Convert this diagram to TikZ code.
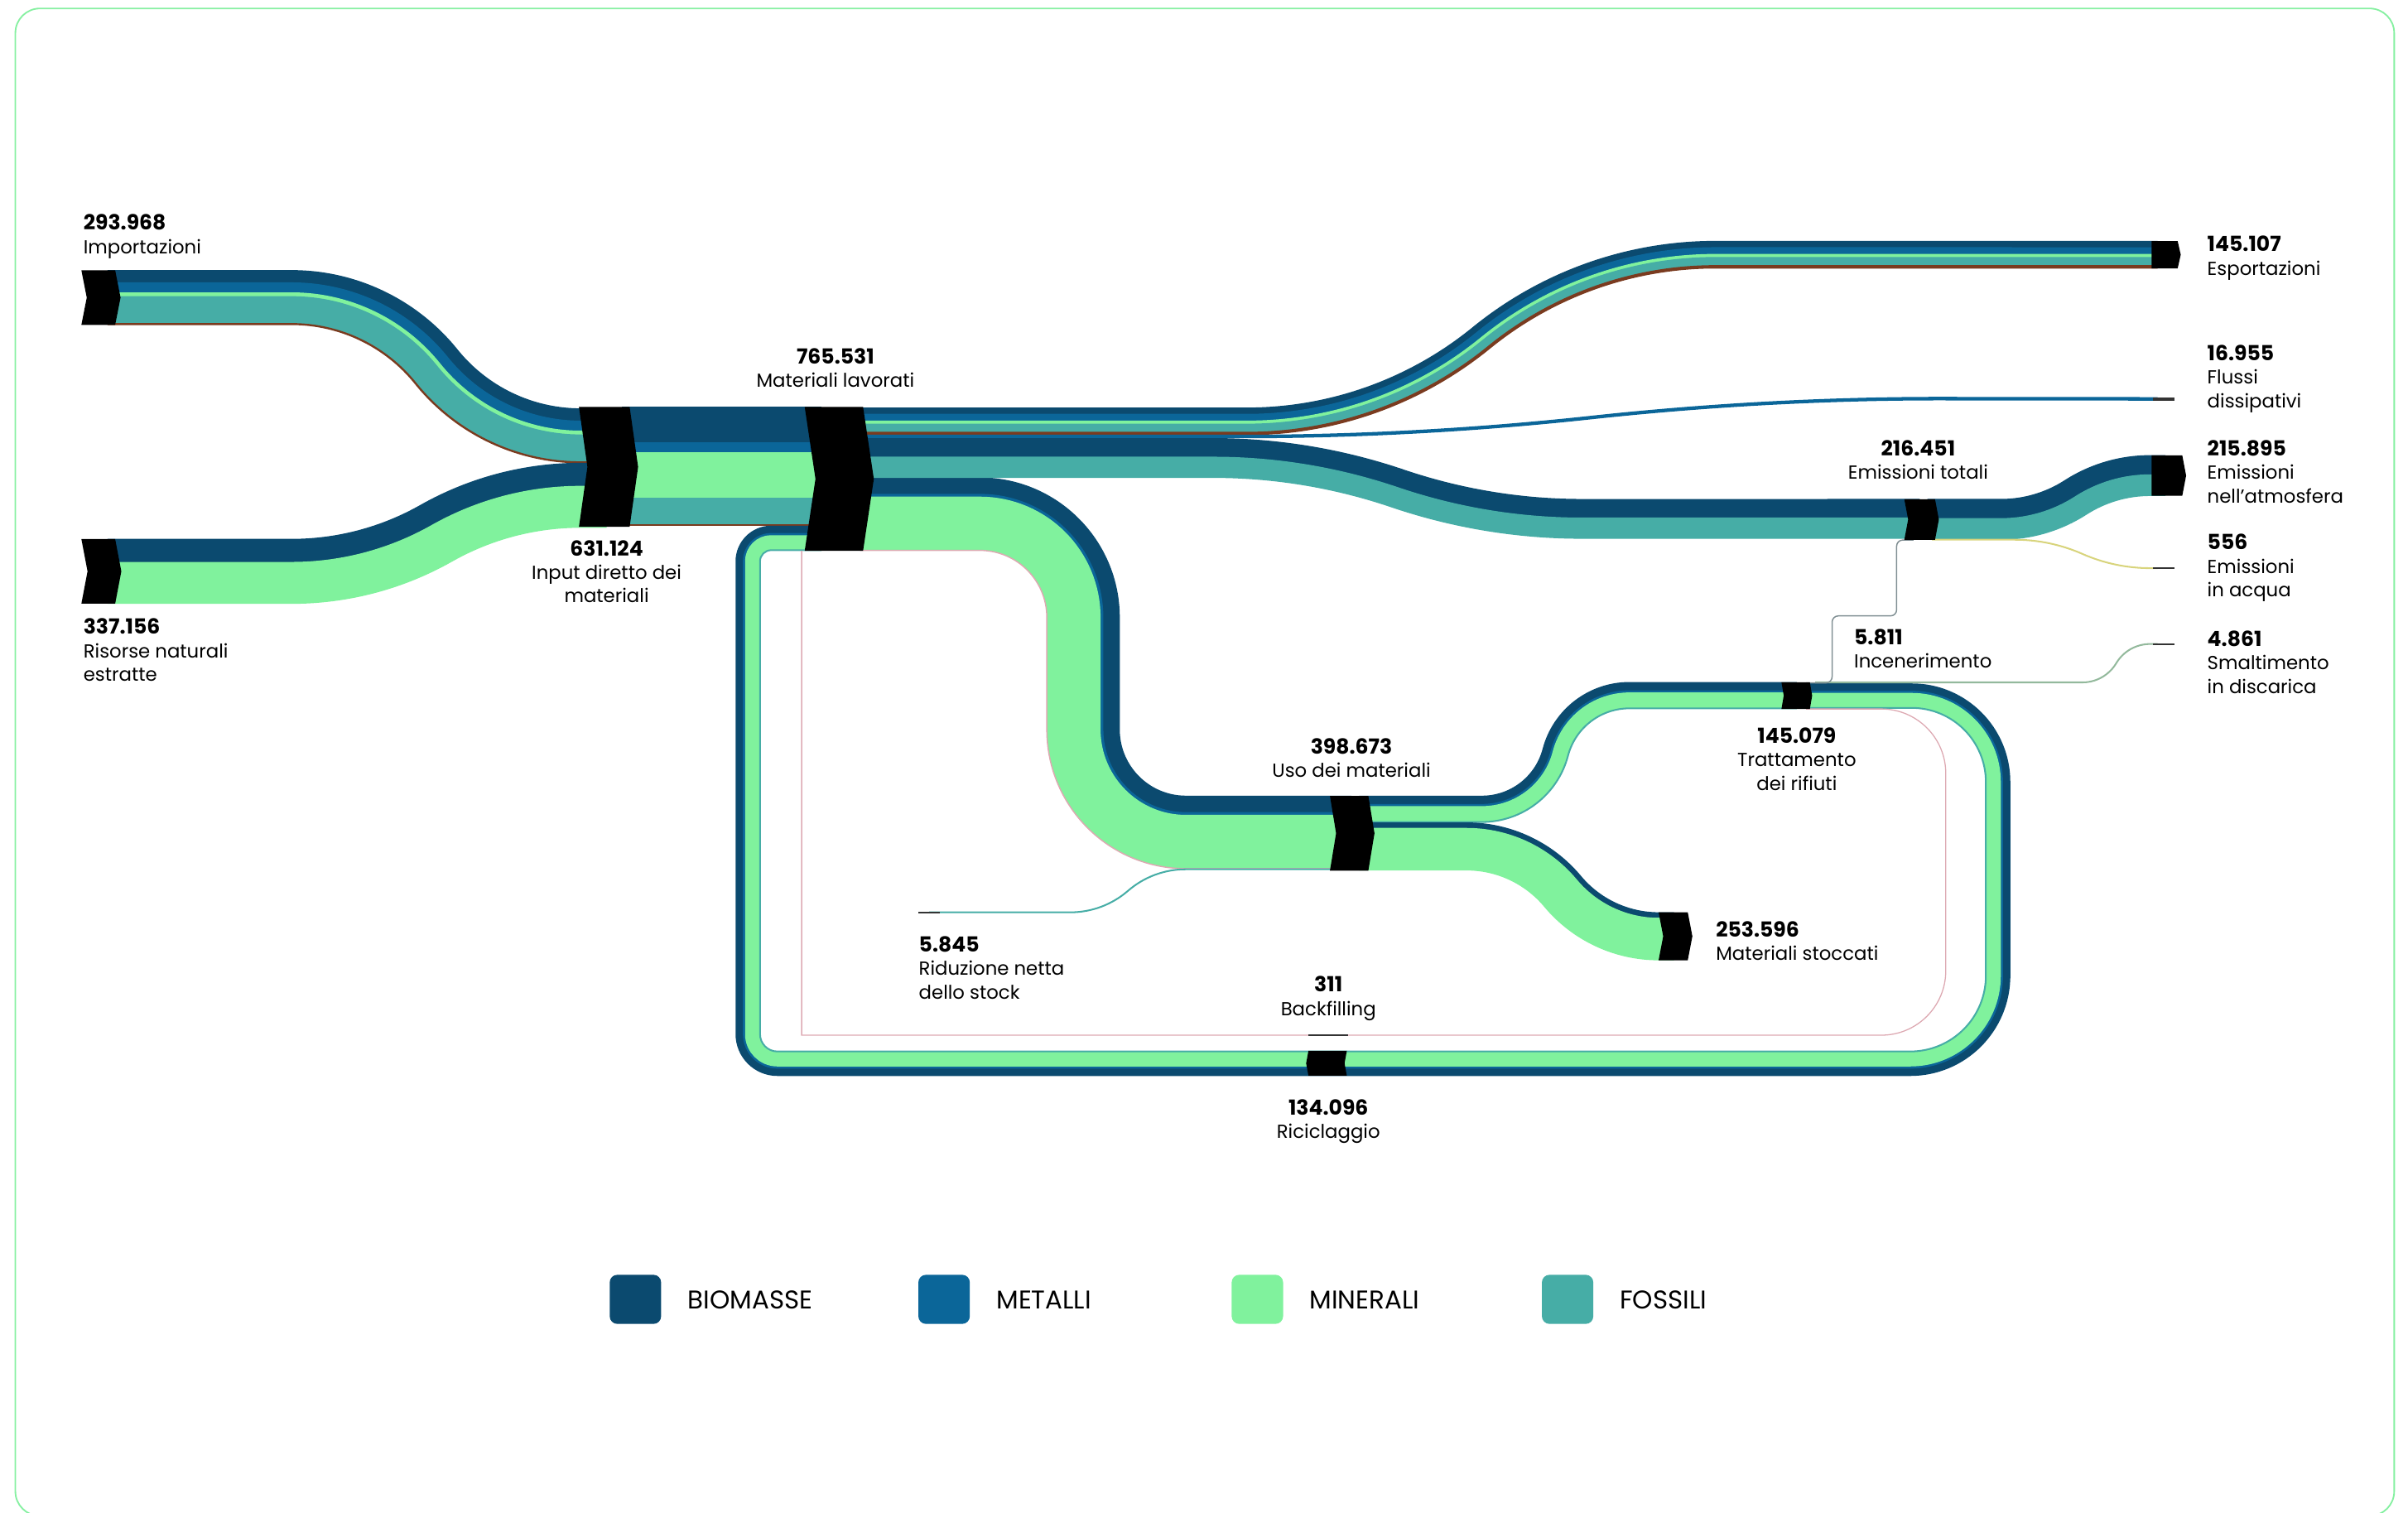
\documentclass[tikz,border=0pt]{standalone}
\usepackage{fontspec}
\setmainfont{Poppins}

\definecolor{cbio}{HTML}{0B4A6F}
\definecolor{cmet}{HTML}{0B6699}
\definecolor{cmin}{HTML}{80F29D}
\definecolor{cfos}{HTML}{46ADA6}
\definecolor{coth}{HTML}{7A3B1F}
\definecolor{cpink}{HTML}{DDA9B2}
\definecolor{cgrey}{HTML}{7F8E92}
\definecolor{cland}{HTML}{93B99C}
\definecolor{cwater}{HTML}{D8D47C}
\definecolor{cframe}{HTML}{86F0A1}

\tikzset{
  lbl/.style={font=\fontsize{7}{8.7}\selectfont, inner sep=0pt, align=left, anchor=north west},
  clbl/.style={lbl, align=center, anchor=north},
  legendtext/.style={font=\fontsize{9.5}{11}\selectfont, inner sep=0pt, anchor=west},
  endmark/.style={draw=black!80, line width=#1*0.02cm},
  thinflow/.style={line width=#1*0.02cm},
}

% bold flow value in a label
\newcommand\val[1]{{\fontsize{7.7}{8.7}\selectfont\bfseries #1}}

% flow with an s-bend: x start, x bend, bend length, drop, x end, y centre, colour/top/bottom
\newcommand\sflow[7]{%
  \pgfmathsetmacro\fs{ifthenelse(#4<0,-1,1)}%
  \pgfmathsetmacro\ft{2*atan(abs(#4)/#3)}%
  \pgfmathsetmacro\fr{#3/(2*sin(\ft))}%
  \foreach \fc/\ya/\yb in {#7} {%
    \pgfmathsetmacro\fu{#6-(\ya+\yb)/2}%
    \draw[\fc, line width={(\yb-\ya+0.3)*0.02cm}] (#1,{#6-(\fu)}) -- (#2,{#6-(\fu)})
      arc[start angle={-90*(\fs)}, delta angle={(\fs)*\ft}, radius={\fr+(\fs)*(\fu)}]
      arc[start angle={90*(\fs)+(\fs)*\ft}, delta angle={-(\fs)*\ft}, radius={\fr-(\fs)*(\fu)}]
      -- (#5,{#6+(#4)-(\fu)});
  }}

% black node bar: x1, x2, y1, y2, left notch, right tip
\newcommand\nodebar[6]{%
  \fill (#1,#3) -- (#2,#3) -- ({#2+#6},{(#3+#4)/2}) -- (#2,#4) -- (#1,#4)
    -- ({#1+#5},{(#3+#4)/2}) -- cycle;}

\begin{document}
\begin{tikzpicture}[x=0.02cm, y=-0.02cm]
  \useasboundingbox (0,0) rectangle (1568,985);
  \draw[cframe, line width=0.02cm, rounded corners=0.32cm] (10,5.5) rectangle (1559,987);

  % into input diretto
  \sflow{70}{190}{188}{90}{395}{193.75}{cbio/176/184, cmet/184/190.5, cmin/190.5/193, cfos/193/210.5, coth/210.5/211.5}
  \sflow{70}{190}{188}{-49.5}{395}{372}{cbio/351/366, cmin/366/393}

  \foreach \fc/\ya/\yb in {cbio/265/288, cmet/288/294.5, cmin/294.5/324, cfos/324/341.5, coth/341.5/342.5}
    \fill[\fc] (405,\ya) rectangle (535,\yb);

  % riciclaggio loop
  \foreach \fc/\w/\fu in {cbio/4.8/5.7, cmet/1.4/2.6, cmin/9.2/-2.7, cfos/0.8/-7.7}
    \draw[\fc, line width={(\w+0.3)*0.02cm}] (1175,{453.2-(\fu)}) -- (1244.8,{453.2-(\fu)})
      arc[start angle=-90, end angle=0, radius={56+(\fu)}]
      -- ({1300.8+(\fu)},635.3)
      arc[start angle=0, end angle=90, radius={57+(\fu)}]
      -- (506.2,{692.3+(\fu)})
      arc[start angle=90, end angle=180, radius={19+(\fu)}]
      -- ({487.2-(\fu)},365.5)
      arc[start angle=180, end angle=270, radius={15+(\fu)}]
      -- (535,{350.5-(\fu)});

  % materiali lavorati -> uso dei materiali
  \foreach \fc/\w/\fu in {cbio/10.7/18.45, cmet/1.8/12.2, cmin/34.6/-6, cpink/0.5/-23.55}
    \draw[\fc, line width={(\w+0.3)*0.02cm}] (560,{334.8-(\fu)}) -- (638,{334.8-(\fu)})
      arc[start angle=-90, end angle=0, radius={67.2+(\fu)}]
      -- ({705.2+(\fu)},475)
      arc[start angle=180, end angle=90, radius={67-(\fu)}]
      -- (880,{542-(\fu)});

  \sflow{560}{812}{305}{-108.5}{1405}{274.35}{cbio/265.5/269.6, cmet/269.6/274, cmin/274/276, cfos/276/281.3, coth/281.3/283.2}
  \sflow{560}{809}{454}{-24.5}{1405}{284.2}{cmet/283.2/285.2}
  \sflow{560}{790}{240}{39.6}{1250}{298.2}{cbio/285.4/297.5, cfos/297.5/311}
  \sflow{1255}{1303}{97}{-28.5}{1410}{338.15}{cbio/325/337.5, cfos/337.5/351.3}
  \sflow{1258}{1312}{88}{18.5}{1405}{351.4}{cwater/351/351.8}

  \sflow{885}{965}{96}{-74}{1170}{526.9}{cbio/518.2/523.6, cmet/523.6/525, cmin/525/534.8, cfos/534.8/535.6}
  \sflow{885}{955}{125}{58.5}{1090}{551.1}{cbio/535.6/539.2, cmin/539.2/566.6}
  \sflow{605}{697}{75}{-28}{880}{594}{cfos/593.6/594.4}

  \sflow{1182}{1356}{44}{-25}{1405}{444.3}{cland/443.9/444.7}
  \draw[cgrey, thinflow=0.8, rounded corners=0.08cm] (1176,444.6) -- (1193,444.6) -- (1193,401)
    -- (1235,401) -- (1235,351.6) -- (1246,351.6);
  \draw[cpink, thinflow=0.7] (1176,461.6) -- (1225,461.6) arc[start angle=-90, end angle=0, radius=42]
    -- (1267,632) arc[start angle=0, end angle=90, radius=42] -- (522,674) -- (522,358.6);

  % node bars
  \nodebar{53}{75}{176}{211.5}{3.5}{3.5}
  \nodebar{53}{75}{351}{393}{4}{4}
  \nodebar{377}{410}{265}{343}{5.5}{5.5}
  \nodebar{524}{562}{265}{358.6}{7}{7}
  \nodebar{866}{891}{518.2}{566.9}{4}{4}
  \nodebar{1160}{1178.5}{444.2}{461.6}{1.5}{1.5}
  \nodebar{1240}{1260}{325}{351.5}{2.5}{2.5}
  \nodebar{1080}{1099}{594}{625.2}{3}{3}
  \nodebar{852}{877}{684.2}{700.4}{-1.5}{-1.5}
  \nodebar{1401}{1418}{157}{174.7}{0}{2}
  \nodebar{1401}{1421}{296.5}{322.8}{0}{2.5}

  \draw[endmark=2] (1402,259.7) -- (1416,259.7);
  \draw[endmark=1] (1402,369.9) -- (1416,369.9);
  \draw[endmark=1] (1402,419.3) -- (1416,419.3);
  \draw[endmark=1.2] (598,594) -- (612,594);
  \draw[endmark=1.2] (852,674) -- (878,674);

  % labels
  \node[lbl] (imp) at (54,139.4) {\val{293.968}\\Importazioni};
  \node[lbl] (ris) at (54,402.4) {\val{337.156}\\Risorse naturali\\estratte};
  \node[clbl] (idm) at (395,351.4) {\val{631.124}\\Input diretto dei\\materiali};
  \node[clbl] (lav) at (544,226.4) {\val{765.531}\\Materiali lavorati};
  \node[clbl] (uso) at (880,480.4) {\val{398.673}\\Uso dei materiali};
  \node[clbl] (tra) at (1170,473.4) {\val{145.079}\\Trattamento\\dei rifiuti};
  \node[lbl] (sto) at (1117,599.4) {\val{253.596}\\Materiali stoccati};
  \node[lbl] (rid) at (598,609.4) {\val{5.845}\\Riduzione netta\\dello stock};
  \node[clbl] (bkf) at (865,635.4) {\val{311}\\Backfilling};
  \node[clbl] (ric) at (865,715.4) {\val{134.096}\\Riciclaggio};
  \node[clbl] (emt) at (1249,286.4) {\val{216.451}\\Emissioni totali};
  \node[lbl] (inc) at (1207,409.4) {\val{5.811}\\Incenerimento};
  \node[lbl] (esp) at (1437,153.4) {\val{145.107}\\Esportazioni};
  \node[lbl] (dis) at (1437,224.4) {\val{16.955}\\Flussi\\dissipativi};
  \node[lbl] (atm) at (1437,286.4) {\val{215.895}\\Emissioni\\nell’atmosfera};
  \node[lbl] (acq) at (1437,347.4) {\val{556}\\Emissioni\\in acqua};
  \node[lbl] (dsc) at (1437,410.4) {\val{4.861}\\Smaltimento\\in discarica};

  % legend
  \foreach \fc/\x/\t in {cbio/397/BIOMASSE, cmet/598/METALLI, cmin/802/MINERALI, cfos/1004/FOSSILI} {
    \fill[\fc, rounded corners=0.1cm] (\x,830) rectangle ++(33.5,32);
    \node[legendtext] (leg-\t) at (\x+50.5,846.5) {\t};
  }
\end{tikzpicture}
\end{document}
